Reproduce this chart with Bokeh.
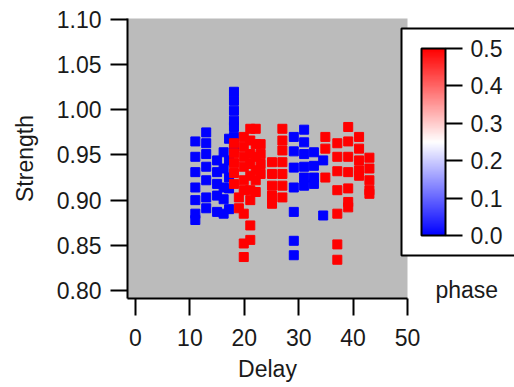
from bokeh.plotting import figure
from bokeh.models import (ColumnDataSource, LinearColorMapper, ColorBar, FixedTicker,
                          NumeralTickFormatter, Range1d)
from bokeh.transform import transform
from bokeh.embed import file_html
from bokeh.resources import INLINE

# ---- data ----
blue_delay = ([11.0] * 7 + [13.0] * 7 + [15.0] * 5 + [16.2] * 5 + [17.2] * 5 + [18.1] * 7
              + [29.1] * 7 + [31.0] * 6 + [32.8] * 4 + [34.5] * 2)
blue_strength = [0.965, 0.948, 0.931, 0.914, 0.900, 0.885, 0.878,
                 0.975, 0.963, 0.951, 0.937, 0.922, 0.903, 0.891,
                 0.944, 0.931, 0.918, 0.905, 0.887,
                 0.953, 0.935, 0.914, 0.901, 0.885,
                 0.968, 0.944, 0.925, 0.913, 0.890,
                 1.020, 1.010, 0.999, 0.988, 0.981, 0.970, 0.958,
                 0.970, 0.954, 0.936, 0.914, 0.887, 0.855, 0.839,
                 0.978, 0.964, 0.951, 0.937, 0.925, 0.916,
                 0.953, 0.938, 0.925, 0.918,
                 0.944, 0.883]
red_delay = ([18.1] * 5 + [19.0] * 2 + [19.9] * 9 + [21.1] * 9 + [22.1] * 6 + [23.0] * 4
             + [25.1] * 5 + [27.0] * 7 + [34.9] * 3 + [37.1] * 7 + [39.1] * 7 + [41.1] * 5
             + [43.0] * 5)
red_strength = [0.963, 0.952, 0.941, 0.930, 0.918,
                0.903, 0.891,
                0.970, 0.959, 0.948, 0.937, 0.922, 0.911, 0.885, 0.852, 0.837,
                0.979, 0.966, 0.951, 0.940, 0.927, 0.911, 0.900, 0.872, 0.856,
                0.979, 0.962, 0.948, 0.933, 0.922, 0.909,
                0.962, 0.951, 0.940, 0.929,
                0.942, 0.929, 0.916, 0.905, 0.896,
                0.979, 0.966, 0.955, 0.942, 0.929, 0.916, 0.903,
                0.970, 0.957, 0.925,
                0.963, 0.948, 0.932, 0.911, 0.885, 0.851, 0.834,
                0.981, 0.965, 0.948, 0.931, 0.913, 0.898, 0.892,
                0.970, 0.957, 0.944, 0.933, 0.927,
                0.947, 0.935, 0.922, 0.911, 0.907]
blue_phase = [0.0] * len(blue_delay)
red_phase = [0.5] * len(red_delay)

x_ticks = [0, 10, 20, 30, 40, 50]
y_ticks = [0.80, 0.85, 0.90, 0.95, 1.00, 1.05, 1.10]
phase_ticks = [0.0, 0.1, 0.2, 0.3, 0.4, 0.5]

palette = []
for i in range(256):
    t = i / 255
    if t < 0.5:
        s = t / 0.5
        r, g, b = int(255 * s), int(255 * s), 255
    else:
        s = (t - 0.5) / 0.5
        r, g, b = 255, int(255 * (1 - s)), int(255 * (1 - s))
    palette.append("#%02x%02x%02x" % (r, g, b))
mapper = LinearColorMapper(palette=palette, low=0.0, high=0.5)

FONT = "Liberation Sans"
TXT = "#1a1a1a"
FS = "23px"

p = figure(width=514, height=387, x_range=Range1d(-1.47, 50.0), y_range=Range1d(0.7911, 1.1011),
           output_backend="svg", toolbar_location=None,
           min_border_left=127, min_border_right=107, min_border_top=18, min_border_bottom=89)
p.background_fill_color = "#bbbbbb"
p.border_fill_color = "white"
p.outline_line_color = None
p.grid.visible = False

p.xaxis.ticker = x_ticks
p.yaxis.ticker = y_ticks
p.yaxis.formatter = NumeralTickFormatter(format="0.00")
p.xaxis.axis_label = "Delay"
p.yaxis.axis_label = "Strength"
for ax in (p.xaxis[0], p.yaxis[0]):
    ax.axis_line_width = 2
    ax.axis_line_color = "black"
    ax.major_tick_line_width = 2
    ax.major_tick_line_color = "black"
    ax.major_tick_out = 17
    ax.major_tick_in = 0
    ax.minor_tick_line_color = None
    ax.major_label_text_font = FONT
    ax.major_label_text_font_size = FS
    ax.major_label_text_color = TXT
    ax.axis_label_text_font = FONT
    ax.axis_label_text_font_size = FS
    ax.axis_label_text_font_style = "normal"
    ax.axis_label_text_color = TXT
p.xaxis.major_label_standoff = 13
p.xaxis.axis_label_standoff = 7
p.yaxis.major_label_standoff = 9
p.yaxis.axis_label_standoff = 16

src_b = ColumnDataSource(dict(delay=blue_delay, strength=blue_strength, phase=blue_phase))
src_r = ColumnDataSource(dict(delay=red_delay, strength=red_strength, phase=red_phase))
for src in (src_b, src_r):
    p.scatter("delay", "strength", source=src, marker="square", size=9,
              fill_color=transform("phase", mapper), line_color=transform("phase", mapper))

cb = ColorBar(color_mapper=mapper, ticker=FixedTicker(ticks=phase_ticks),
              formatter=NumeralTickFormatter(format="0.0"),
              location=(274, 43), orientation="vertical", width=24, height=187, padding=20,
              bar_line_color="black", bar_line_width=2,
              major_tick_out=17, major_tick_in=0, major_tick_line_color="black",
              major_tick_line_width=2, minor_tick_line_color=None, label_standoff=8,
              major_label_text_font=FONT, major_label_text_font_size=FS,
              major_label_text_color=TXT,
              border_line_color="black", border_line_width=2,
              background_fill_color="white", background_fill_alpha=1.0)
p.add_layout(cb)

# "phase" caption under the colour-scale box (a bar-less colour bar carrying only its title)
cap = ColorBar(color_mapper=mapper, ticker=FixedTicker(ticks=[]),
               location=(308, -5), orientation="horizontal", width=1, height=1, padding=0,
               scale_alpha=0, bar_line_color=None, major_tick_line_color=None,
               minor_tick_line_color=None, major_label_text_alpha=0,
               border_line_color=None, background_fill_alpha=0,
               title="phase", title_standoff=0, title_text_font=FONT,
               title_text_font_size=FS, title_text_font_style="normal",
               title_text_color=TXT)
p.add_layout(cap)

open("out.html", "w").write(file_html(p, INLINE))
